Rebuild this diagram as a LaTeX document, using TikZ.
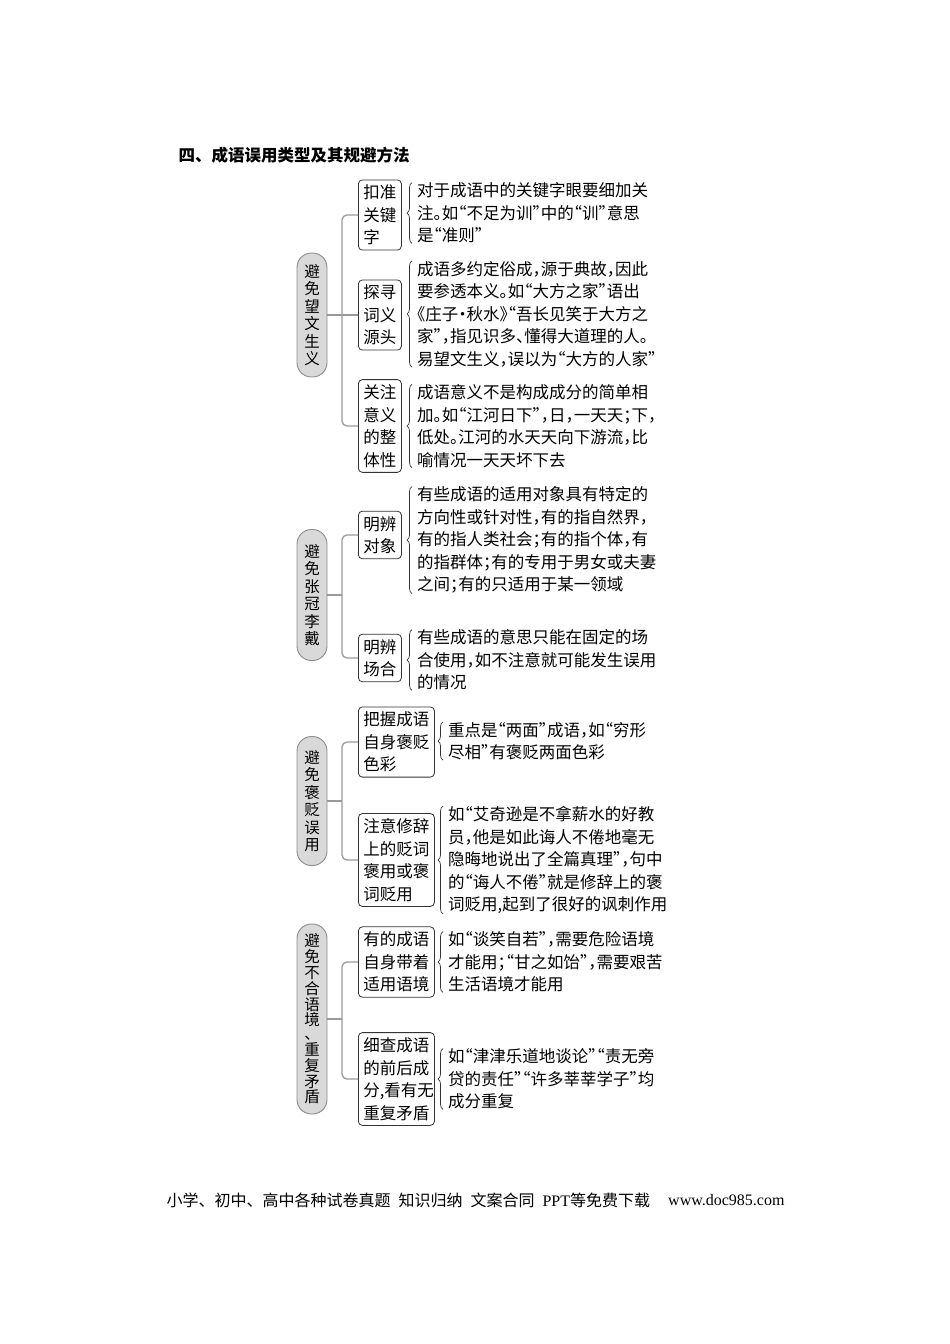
\documentclass[tikz,border=0pt]{standalone}
\usepackage{fontspec}
\setmainfont{Liberation Serif}
\newfontfamily\cjk[RawFeature=+halt]{Noto Sans CJK SC}
\newfontfamily\cjkt{Noto Sans CJK SC}
\usetikzlibrary{positioning,decorations.pathreplacing}

\begin{document}
\begin{tikzpicture}[x=1pt,y=-1pt,
  pill/.style={draw=black!45,fill=black!15,line width=0.9pt,rounded corners=14.5pt,
    minimum width=30pt,inner sep=0pt,align=center,font=\cjkt\fontsize{15.5}{17.5}\selectfont},
  item/.style={draw=black!80,line width=0.8pt,rounded corners=4pt,anchor=west,
    inner xsep=5pt,inner ysep=5pt,align=left,font=\cjk\fontsize{16.5}{22.5}\selectfont},
  narrow/.style={item,text width=33pt},
  wide/.style={item,text width=66pt},
  note/.style={anchor=west,inner sep=0pt,align=left,font=\cjk\fontsize{16.5}{22.5}\selectfont},
  link/.style={draw=black!40,line width=1.3pt,rounded corners=5pt},
  brc/.style={draw=black!80,line width=0.7pt,decorate,decoration={brace,amplitude=5pt}}]

\useasboundingbox (0,0) rectangle (950,1344);

\node[anchor=west,font=\cjkt\bfseries\fontsize{16.5}{20}\selectfont] (title) at (175,155) {四、成语误用类型及其规避方法};

% the four kinds of misuse
\node[pill,minimum height=124pt] (grp1) at (312,315) {避\\免\\望\\文\\生\\义};
\node[pill,minimum height=131pt] (grp2) at (312,595) {避\\免\\张\\冠\\李\\戴};
\node[pill,minimum height=129pt] (grp3) at (312,801) {避\\免\\褒\\贬\\误\\用};
\node[pill,minimum height=190pt,font=\cjkt\fontsize{15.5}{15.8}\selectfont] (grp4) at (312,1019) {避\\免\\不\\合\\语\\境\\[-2pt]、\\重\\复\\矛\\盾};

\foreach \g/\y in {1/315,2/595,3/801,4/1019}
{
  \coordinate (jn\g) at (342,\y);
}

% ways to avoid them
\node[narrow] (itm11) at (358,215) {扣准\\关键\\字};
\node[narrow] (itm12) at (358,315) {探寻\\词义\\源头};
\node[narrow] (itm13) at (358,426) {关注\\意义\\的整\\体性};
\node[narrow] (itm21) at (358,535) {明辨\\对象};
\node[narrow] (itm22) at (358,658) {明辨\\场合};
\node[wide] (itm31) at (358,742) {把握成语\\自身褒贬\\色彩};
\node[wide] (itm32) at (358,860) {注意修辞\\上的贬词\\褒用或褒\\词贬用};
\node[wide] (itm41) at (358,962) {有的成语\\自身带着\\适用语境};
\node[wide] (itm42) at (358,1079) {细查成语\\的前后成\\分,看有无\\重复矛盾};

% explanations
\node[note] (txt11) at (417,213) {对于成语中的关键字眼要细加关\\注。如“不足为训”中的“训”意思\\是“准则”};
\node[note] (txt12) at (417,314) {成语多约定俗成，源于典故，因此\\要参透本义。如“大方之家”语出\\《庄子·秋水》“吾长见笑于大方之\\家”，指见识多、懂得大道理的人。\\易望文生义，误以为“大方的人家”};
\node[note] (txt13) at (417,426) {成语意义不是构成成分的简单相\\加。如“江河日下”，日，一天天；下，\\低处。江河的水天天向下游流，比\\喻情况一天天坏下去};
\node[note] (txt21) at (417,540) {有些成语的适用对象具有特定的\\方向性或针对性，有的指自然界，\\有的指人类社会；有的指个体，有\\的指群体；有的专用于男女或夫妻\\之间；有的只适用于某一领域};
\node[note] (txt22) at (417,660) {有些成语的意思只能在固定的场\\合使用，如不注意就可能发生误用\\的情况};
\node[note] (txt31) at (448,741) {重点是“两面”成语，如“穷形\\尽相”有褒贬两面色彩};
\node[note] (txt32) at (448,860) {如“艾奇逊是不拿薪水的好教\\员，他是如此诲人不倦地毫无\\隐晦地说出了全篇真理”，句中\\的“诲人不倦”就是修辞上的褒\\词贬用,起到了很好的讽刺作用};
\node[note] (txt41) at (448,962) {如“谈笑自若”，需要危险语境\\才能用；“甘之如饴”，需要艰苦\\生活语境才能用};
\node[note] (txt42) at (448,1079) {如“津津乐道地谈论”“责无旁\\贷的责任”“许多莘莘学子”均\\成分重复};

\foreach \g/\a/\b in {1/11/13,2/21/22,3/31/32,4/41/42}
{
  \draw[link] (grp\g.east) -- (jn\g);
  \draw[link] (itm\a.west) -| (jn\g) |- (itm\b.west);
}
\draw[link] (jn1) -- (itm12.west);

\foreach \t in {11,12,13,21,22,31,32,41,42}
{
  \draw[brc] ([xshift=-5pt]txt\t.south west) -- ([xshift=-5pt]txt\t.north west);
}

\node[anchor=west,font=\cjkt\fontsize{16}{18}\selectfont] (foot) at (163,1200) {小学、初中、高中各种试卷真题\hspace{8pt}知识归纳\hspace{8pt}文案合同\hspace{8pt}{\rmfamily PPT}等免费下载};
\node[anchor=east,font=\fontsize{16}{18}\selectfont] (site) at (788,1200) {www.doc985.com};

\end{tikzpicture}
\end{document}
